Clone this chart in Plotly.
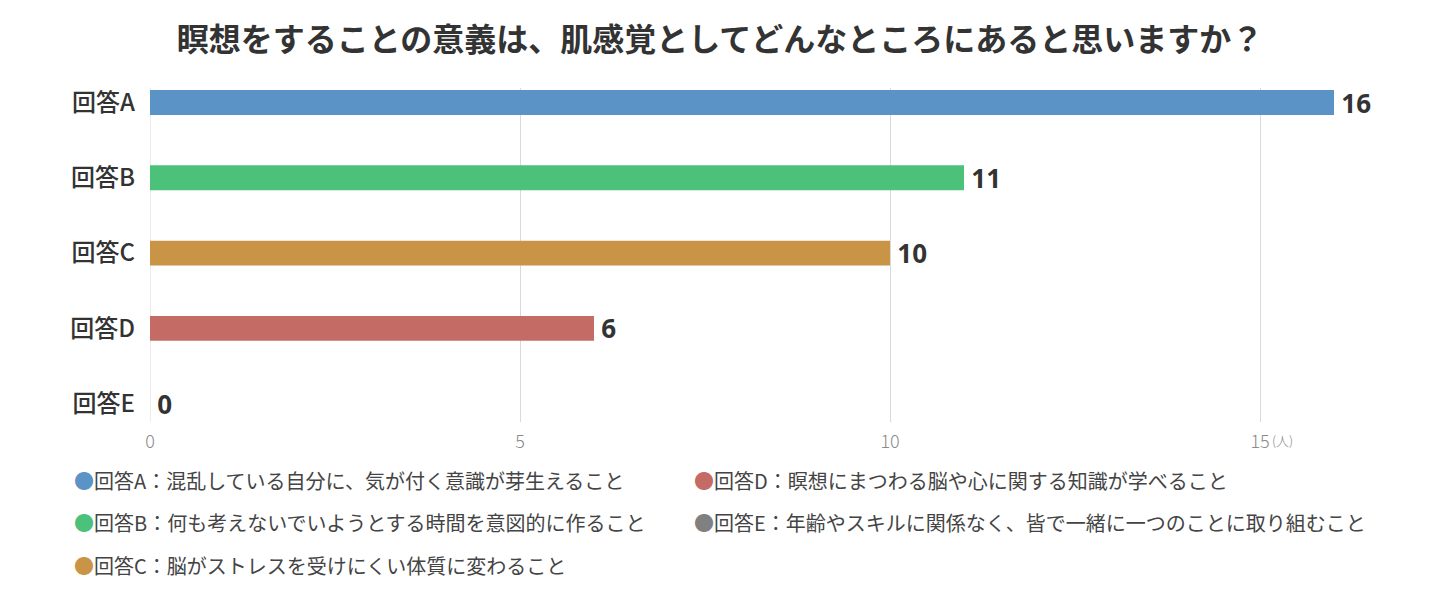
import plotly.graph_objects as go

categories = ["回答A", "回答B", "回答C", "回答D", "回答E"]
values = [16, 11, 10, 6, 0]
colors = ["#5b93c7", "#4cc17a", "#c99446", "#c56b66", "#808080"]
legend_texts = [
    "回答A：混乱している自分に、気が付く意識が芽生えること",
    "回答B：何も考えないでいようとする時間を意図的に作ること",
    "回答C：脳がストレスを受けにくい体質に変わること",
    "回答D：瞑想にまつわる脳や心に関する知識が学べること",
    "回答E：年齢やスキルに関係なく、皆で一緒に一つのことに取り組むこと",
]
title = "瞑想をすることの意義は、肌感覚としてどんなところにあると思いますか？"
x_ticks = [0, 5, 10, 15]
unit = "(人)"

JP = "Noto Sans CJK JP"

fig = go.Figure(go.Bar(
    x=values, y=categories, orientation="h",
    marker=dict(color=colors, line=dict(width=0)),
    width=0.33,
    texttemplate="\u2009%{x}", textposition="outside",
    constraintext="none",
    textfont=dict(family="Noto Sans", size=26, color="#333333", weight="bold"),
    cliponaxis=False,
))

W, H = 1440, 599
L, R, T, B = 150, 1440 - 1334, 88, 599 - 422

fig.update_layout(
    width=W, height=H,
    margin=dict(l=L, r=R, t=T, b=B),
    paper_bgcolor="white", plot_bgcolor="white",
    showlegend=False,
    title=dict(text=f"<b>{title}</b>", x=0.5, xanchor="center", y=1 - 40 / H, yanchor="middle",
               font=dict(family=JP, size=32, color="#333333")),
    xaxis=dict(range=[0, 16], tickvals=x_ticks, ticktext=[str(t) for t in x_ticks],
               showgrid=True, gridcolor="#d9d9d9", gridwidth=1, zeroline=False,
               showline=False, ticks="", ticklabelstandoff=7,
               tickfont=dict(family=JP, size=18, color="#8a8a8a", weight=300)),
    yaxis=dict(range=[4.245, -0.193], showgrid=False, zeroline=False,
               showline=False, ticks="", ticklabelstandoff=14,
               tickfont=dict(family=JP, size=24, color="#333333", weight=500)),
    shapes=[dict(type="line", xref="x", yref="paper", x0=0, x1=0, y0=0, y1=1,
                 line=dict(color="#d9d9d9", width=1), layer="below")],
)

plot_h = H - T - B
plot_w = W - L - R

annotations = [dict(text=unit, xref="x", yref="paper", x=15.13, y=-18 / plot_h,
                    xanchor="left", yanchor="middle", showarrow=False,
                    font=dict(family=JP, size=13, color="#8a8a8a", weight=300))]

pos = [(72, 480), (72, 522), (72, 565), (692, 480), (692, 522)]
for (px, py), txt, col in zip(pos, legend_texts, colors):
    annotations.append(dict(
        text=f"<span style='color:{col}'>●</span>{txt}",
        xref="paper", yref="paper",
        x=(px - L) / plot_w, y=(H - py - B) / plot_h,
        xanchor="left", yanchor="middle", showarrow=False,
        font=dict(family=JP, size=20, color="#444444")))
fig.update_layout(annotations=annotations)

fig.write_html("out.html")
